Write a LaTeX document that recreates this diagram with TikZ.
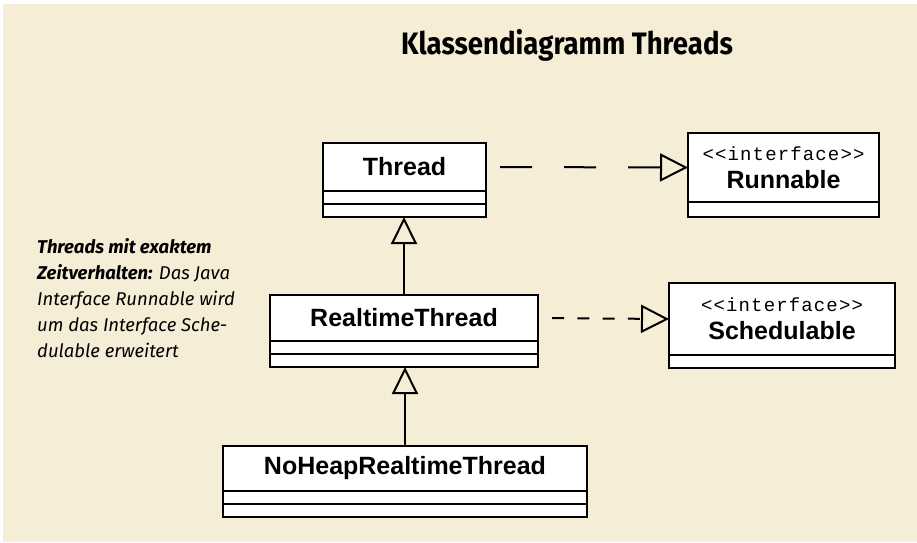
\documentclass[tikz,border=0pt]{standalone}
\usepackage{fontspec}
\setmainfont{Liberation Sans}
\newfontfamily\notefont{Fira Sans}
\newfontfamily\titlefont[FakeStretch=0.89]{Fira Sans}
\newfontfamily\stereofont[LetterSpace=6]{Liberation Mono}
\usetikzlibrary{arrows.meta,positioning}
\definecolor{paper}{RGB}{245,237,214}

\begin{document}
\begin{tikzpicture}[x=1pt,y=-1pt,
  box/.style={rectangle,draw,fill=white,line width=2.6pt,inner sep=0pt,outer sep=0pt},
  cls/.style={box,font=\bfseries\fontsize{25}{25}\selectfont},
  iface/.style={box,align=center,font=\bfseries\fontsize{25}{28}\selectfont},
  part/.style={box,minimum height=13pt},
  impl/.style={line width=2pt,-{Triangle[open,length=28pt,width=28pt,line width=2pt]}},
  gen/.style={line width=2pt,-{Triangle[open,length=27pt,width=26pt,line width=2pt]}}]

\useasboundingbox (0,0) rectangle (917,542);
\fill[white] (0,0) rectangle (917,542);
\fill[paper] (3,4) rectangle (917,542);

\node[font=\titlefont\bfseries\fontsize{31}{31}\selectfont] (title) at (567,45) {Klassendiagramm Threads};

% classes: name part plus two empty compartments
\node[cls,minimum width=163pt,minimum height=48pt] (thread) at (404.5,167) {Thread};
\node[part,minimum width=163pt,below=0pt of thread] (thread-a) {};
\node[part,minimum width=163pt,below=0pt of thread-a] (thread-o) {};

\node[cls,minimum width=268pt,minimum height=46pt] (rtthread) at (404,318) {RealtimeThread};
\node[part,minimum width=268pt,below=0pt of rtthread] (rtthread-a) {};
\node[part,minimum width=268pt,below=0pt of rtthread-a] (rtthread-o) {};

\node[cls,minimum width=364pt,minimum height=45pt] (noheap) at (405,468.5) {NoHeapRealtimeThread};
\node[part,minimum width=364pt,below=0pt of noheap] (noheap-a) {};
\node[part,minimum width=364pt,below=0pt of noheap-a] (noheap-o) {};

% interfaces
\node[iface,minimum width=191pt,minimum height=69pt] (runnable) at (783.5,167.5)
  {{\stereofont\mdseries\fontsize{19}{19}\selectfont <<interface>>}\\Runnable};
\node[part,minimum width=191pt,minimum height=15pt,below=0pt of runnable] (runnable-o) {};

\node[iface,minimum width=226pt,minimum height=72pt] (schedulable) at (782,319)
  {{\stereofont\mdseries\fontsize{19}{19}\selectfont <<interface>>}\\Schedulable};
\node[part,minimum width=226pt,below=0pt of schedulable] (schedulable-o) {};

% realizations
\draw[impl,dash pattern=on 32pt off 32pt,shorten <=14pt] (thread.east) -- (runnable.west);
\draw[impl,dash pattern=on 12pt off 13.3pt,shorten <=14pt] (rtthread.east) -- (schedulable.west);

% generalizations
\draw[gen] (rtthread.north) -- (rtthread.north |- thread-o.south);
\draw[gen] (noheap.north) -- (noheap.north |- rtthread-o.south);

\node[anchor=north west,align=left,inner sep=0pt,
      font=\notefont\itshape\fontsize{18.5}{26}\selectfont] (note) at (37,238)
  {\textbf{Threads mit exaktem}\\
   \textbf{Zeitverhalten:} Das Java\\
   Interface Runnable wird\\
   um das Interface Sche-\\
   dulable erweitert};
\end{tikzpicture}
\end{document}
